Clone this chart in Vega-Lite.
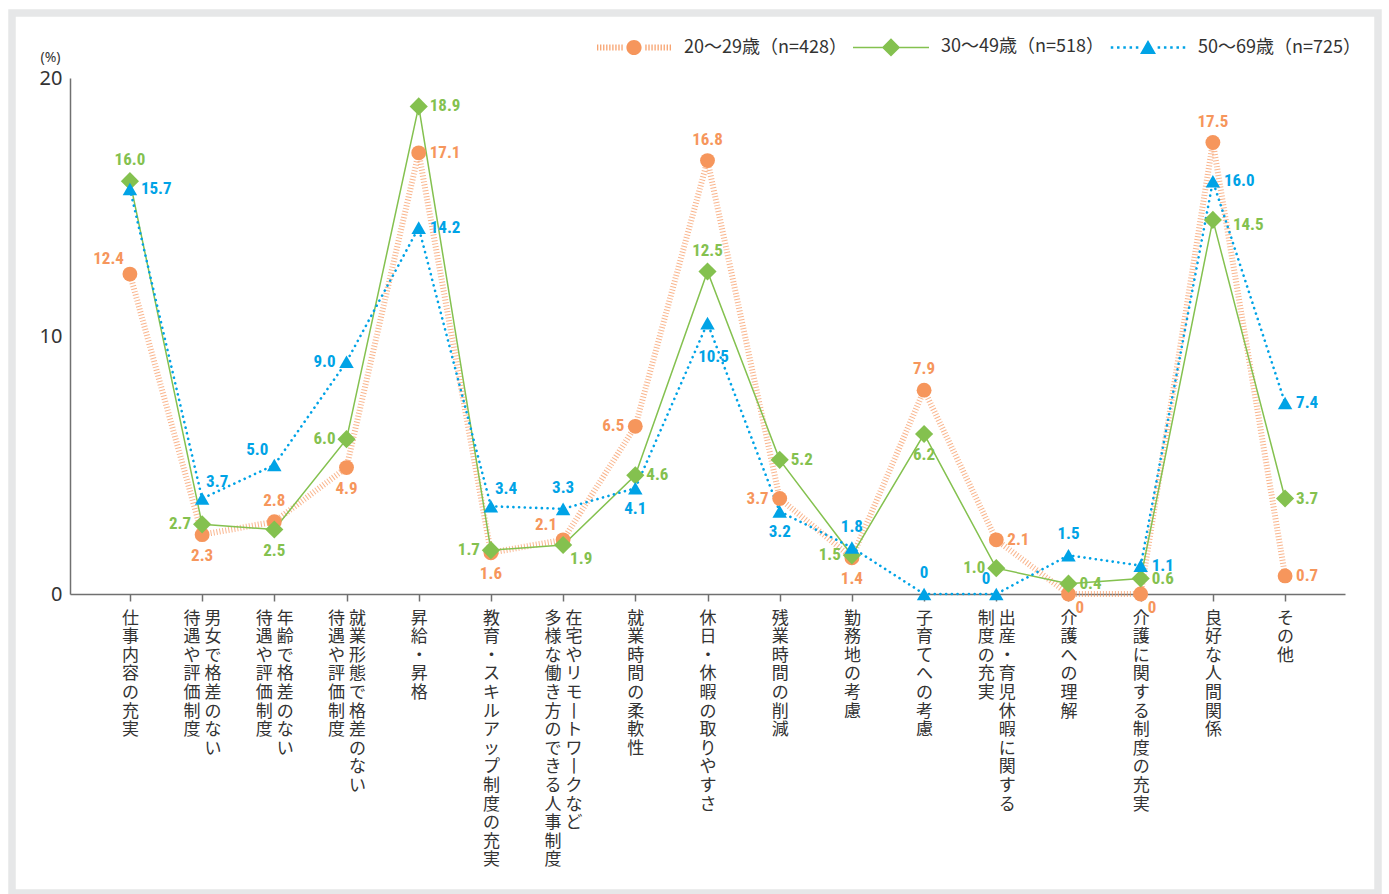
{
  "$schema": "https://vega.github.io/schema/vega-lite/v6.json",
  "width": 1366,
  "height": 880,
  "autosize": {"type": "none"},
  "padding": {"left": 12, "top": 13, "right": 11, "bottom": 1},
  "background": "white",
  "config": {
    "view": {"stroke": "#e6e7e8", "strokeWidth": 7.5},
    "axis": {"grid": false, "domainColor": "#707070", "domainWidth": 1.5, "tickColor": "#707070", "tickWidth": 1.5},
    "axisX": {
      "offset": -299, "title": null, "tickSize": 7,
      "labelAngle": 0, "labelBaseline": "top", "labelPadding": 9,
      "labelFont": "Noto Sans CJK JP", "labelFontSize": 17, "labelColor": "#333333", "labelLineHeight": 18.6,
      "labelOverlap": false, "labelLimit": 0
    },
    "text": {"font": "Roboto Condensed, Roboto, sans-serif", "fontWeight": "bold", "fontSize": 17, "baseline": "middle"}
  },
  "data": {
    "values": [
      {"no": 1, "item": "仕事内容の充実", "group": "20～29歳（n=428）", "value": 12.4},
      {"no": 1, "item": "仕事内容の充実", "group": "30～49歳（n=518）", "value": 16.0},
      {"no": 1, "item": "仕事内容の充実", "group": "50～69歳（n=725）", "value": 15.7},
      {"no": 2, "item": "男女で格差のない\n待遇や評価制度", "group": "20～29歳（n=428）", "value": 2.3},
      {"no": 2, "item": "男女で格差のない\n待遇や評価制度", "group": "30～49歳（n=518）", "value": 2.7},
      {"no": 2, "item": "男女で格差のない\n待遇や評価制度", "group": "50～69歳（n=725）", "value": 3.7},
      {"no": 3, "item": "年齢で格差のない\n待遇や評価制度", "group": "20～29歳（n=428）", "value": 2.8},
      {"no": 3, "item": "年齢で格差のない\n待遇や評価制度", "group": "30～49歳（n=518）", "value": 2.5},
      {"no": 3, "item": "年齢で格差のない\n待遇や評価制度", "group": "50～69歳（n=725）", "value": 5.0},
      {"no": 4, "item": "就業形態で格差のない\n待遇や評価制度", "group": "20～29歳（n=428）", "value": 4.9},
      {"no": 4, "item": "就業形態で格差のない\n待遇や評価制度", "group": "30～49歳（n=518）", "value": 6.0},
      {"no": 4, "item": "就業形態で格差のない\n待遇や評価制度", "group": "50～69歳（n=725）", "value": 9.0},
      {"no": 5, "item": "昇給・昇格", "group": "20～29歳（n=428）", "value": 17.1},
      {"no": 5, "item": "昇給・昇格", "group": "30～49歳（n=518）", "value": 18.9},
      {"no": 5, "item": "昇給・昇格", "group": "50～69歳（n=725）", "value": 14.2},
      {"no": 6, "item": "教育・スキルアップ制度の充実", "group": "20～29歳（n=428）", "value": 1.6},
      {"no": 6, "item": "教育・スキルアップ制度の充実", "group": "30～49歳（n=518）", "value": 1.7},
      {"no": 6, "item": "教育・スキルアップ制度の充実", "group": "50～69歳（n=725）", "value": 3.4},
      {"no": 7, "item": "在宅やリモートワークなど\n多様な働き方のできる人事制度", "group": "20～29歳（n=428）", "value": 2.1},
      {"no": 7, "item": "在宅やリモートワークなど\n多様な働き方のできる人事制度", "group": "30～49歳（n=518）", "value": 1.9},
      {"no": 7, "item": "在宅やリモートワークなど\n多様な働き方のできる人事制度", "group": "50～69歳（n=725）", "value": 3.3},
      {"no": 8, "item": "就業時間の柔軟性", "group": "20～29歳（n=428）", "value": 6.5},
      {"no": 8, "item": "就業時間の柔軟性", "group": "30～49歳（n=518）", "value": 4.6},
      {"no": 8, "item": "就業時間の柔軟性", "group": "50～69歳（n=725）", "value": 4.1},
      {"no": 9, "item": "休日・休暇の取りやすさ", "group": "20～29歳（n=428）", "value": 16.8},
      {"no": 9, "item": "休日・休暇の取りやすさ", "group": "30～49歳（n=518）", "value": 12.5},
      {"no": 9, "item": "休日・休暇の取りやすさ", "group": "50～69歳（n=725）", "value": 10.5},
      {"no": 10, "item": "残業時間の削減", "group": "20～29歳（n=428）", "value": 3.7},
      {"no": 10, "item": "残業時間の削減", "group": "30～49歳（n=518）", "value": 5.2},
      {"no": 10, "item": "残業時間の削減", "group": "50～69歳（n=725）", "value": 3.2},
      {"no": 11, "item": "勤務地の考慮", "group": "20～29歳（n=428）", "value": 1.4},
      {"no": 11, "item": "勤務地の考慮", "group": "30～49歳（n=518）", "value": 1.5},
      {"no": 11, "item": "勤務地の考慮", "group": "50～69歳（n=725）", "value": 1.8},
      {"no": 12, "item": "子育てへの考慮", "group": "20～29歳（n=428）", "value": 7.9},
      {"no": 12, "item": "子育てへの考慮", "group": "30～49歳（n=518）", "value": 6.2},
      {"no": 12, "item": "子育てへの考慮", "group": "50～69歳（n=725）", "value": 0},
      {"no": 13, "item": "出産・育児休暇に関する\n制度の充実", "group": "20～29歳（n=428）", "value": 2.1},
      {"no": 13, "item": "出産・育児休暇に関する\n制度の充実", "group": "30～49歳（n=518）", "value": 1.0},
      {"no": 13, "item": "出産・育児休暇に関する\n制度の充実", "group": "50～69歳（n=725）", "value": 0},
      {"no": 14, "item": "介護への理解", "group": "20～29歳（n=428）", "value": 0},
      {"no": 14, "item": "介護への理解", "group": "30～49歳（n=518）", "value": 0.4},
      {"no": 14, "item": "介護への理解", "group": "50～69歳（n=725）", "value": 1.5},
      {"no": 15, "item": "介護に関する制度の充実", "group": "20～29歳（n=428）", "value": 0},
      {"no": 15, "item": "介護に関する制度の充実", "group": "30～49歳（n=518）", "value": 0.6},
      {"no": 15, "item": "介護に関する制度の充実", "group": "50～69歳（n=725）", "value": 1.1},
      {"no": 16, "item": "良好な人間関係", "group": "20～29歳（n=428）", "value": 17.5},
      {"no": 16, "item": "良好な人間関係", "group": "30～49歳（n=518）", "value": 14.5},
      {"no": 16, "item": "良好な人間関係", "group": "50～69歳（n=725）", "value": 16.0},
      {"no": 17, "item": "その他", "group": "20～29歳（n=428）", "value": 0.7},
      {"no": 17, "item": "その他", "group": "30～49歳（n=518）", "value": 3.7},
      {"no": 17, "item": "その他", "group": "50～69歳（n=725）", "value": 7.4}
    ]
  },
  "resolve": {"axis": {"x": "independent"}},
  "layer": [
    {
      "description": "Legend key: no rows pass the filter; it only carries the colour and the line-plus-marker key shapes.",
      "transform": [{"filter": "false"}],
      "mark": {"type": "point", "filled": true, "opacity": 1, "strokeWidth": 0},
      "encoding": {
        "color": {
          "field": "group", "type": "nominal",
          "scale": {"domain": ["20～29歳（n=428）", "30～49歳（n=518）", "50～69歳（n=725）"], "range": ["#f6965c", "#84c14f", "#00a3e6"]},
          "legend": {
            "orient": "none", "legendX": 584, "legendY": -4, "direction": "horizontal", "title": null, "padding": 0,
            "symbolSize": 5776, "symbolStrokeWidth": 0, "symbolOpacity": 1,
            "labelFont": "Noto Sans CJK JP", "labelFontSize": 18, "labelColor": "#333333", "labelOffset": 12, "labelLimit": 300,
            "columnPadding": 6
          }
        },
        "shape": {
          "field": "group", "type": "nominal",
          "scale": {
            "domain": ["20～29歳（n=428）", "30～49歳（n=518）", "50～69歳（n=725）"],
            "range": [
              "M-0.97,-0.08h0.03v0.16h-0.03ZM-0.89,-0.08h0.03v0.16h-0.03ZM-0.81,-0.08h0.03v0.16h-0.03ZM-0.73,-0.08h0.03v0.16h-0.03ZM-0.65,-0.08h0.03v0.16h-0.03ZM-0.57,-0.08h0.03v0.16h-0.03ZM-0.49,-0.08h0.03v0.16h-0.03ZM-0.41,-0.08h0.03v0.16h-0.03ZM-0.33,-0.08h0.03v0.16h-0.03ZM0.3,-0.08h0.03v0.16h-0.03ZM0.38,-0.08h0.03v0.16h-0.03ZM0.46,-0.08h0.03v0.16h-0.03ZM0.54,-0.08h0.03v0.16h-0.03ZM0.62,-0.08h0.03v0.16h-0.03ZM0.7,-0.08h0.03v0.16h-0.03ZM0.78,-0.08h0.03v0.16h-0.03ZM0.86,-0.08h0.03v0.16h-0.03ZM0.94,-0.08h0.03v0.16h-0.03ZM-0.2,0A0.2,0.2,0,1,0,0.2,0A0.2,0.2,0,1,0,-0.2,0Z",
              "M-1,-0.02H1V0.02H-1ZM0,-0.24L0.24,0L0,0.24L-0.24,0Z",
              "M-0.98,-0.033h0.066v0.066h-0.066ZM-0.815,-0.033h0.066v0.066h-0.066ZM-0.65,-0.033h0.066v0.066h-0.066ZM-0.485,-0.033h0.066v0.066h-0.066ZM-0.32,-0.033h0.066v0.066h-0.066ZM0.254,-0.033h0.066v0.066h-0.066ZM0.419,-0.033h0.066v0.066h-0.066ZM0.584,-0.033h0.066v0.066h-0.066ZM0.749,-0.033h0.066v0.066h-0.066ZM0.914,-0.033h0.066v0.066h-0.066ZM0,-0.2L0.21,0.17L-0.21,0.17Z"
            ]
          }
        }
      }
    },
    {
      "transform": [{"filter": "datum.group === '20～29歳（n=428）'"}],
      "mark": {"type": "line", "color": "#f6965c", "strokeWidth": 6, "strokeDash": [1, 2], "strokeCap": "butt", "opacity": 0.7},
      "encoding": {
        "x": {
          "field": "item", "type": "nominal",
          "scale": {
            "domain": ["仕事内容の充実", "男女で格差のない\n待遇や評価制度", "年齢で格差のない\n待遇や評価制度", "就業形態で格差のない\n待遇や評価制度", "昇給・昇格", "教育・スキルアップ制度の充実", "在宅やリモートワークなど\n多様な働き方のできる人事制度", "就業時間の柔軟性", "休日・休暇の取りやすさ", "残業時間の削減", "勤務地の考慮", "子育てへの考慮", "出産・育児休暇に関する\n制度の充実", "介護への理解", "介護に関する制度の充実", "良好な人間関係", "その他"],
            "range": [58, 1333], "padding": 0.83
          },
          "axis": {
            "orient": "bottom", "labelAlign": "center",
            "labelExpr": "indexof(datum.label, '\\n') >= 0 ? '' : split(replace(datum.label, regexp('ー', 'g'), '丨'), '')"
          }
        },
        "y": {
          "field": "value", "type": "quantitative",
          "scale": {"domain": [0, 20], "range": [581, 65], "nice": false, "zero": true},
          "axis": {
            "orient": "left", "offset": -58, "values": [0, 10, 20], "ticks": false,
            "labelFont": "Noto Sans", "labelFontSize": 20, "labelColor": "#333333", "labelPadding": 8,
            "title": "(%)", "titleAngle": 0, "titleX": -20, "titleY": 44, "titleAlign": "center", "titleBaseline": "middle",
            "titleFont": "Noto Sans", "titleFontSize": 14, "titleFontWeight": "normal", "titleColor": "#333333"
          }
        }
      }
    },
    {
      "transform": [{"filter": "datum.group === '30～49歳（n=518）'"}],
      "mark": {"type": "line", "color": "#84c14f", "strokeWidth": 1.5},
      "encoding": {
        "x": {
          "field": "item", "type": "nominal",
          "axis": {
            "orient": "bottom", "domain": false, "tickOpacity": 0, "labelAlign": "left", "labelOffset": 2,
            "labelExpr": "indexof(datum.label, '\\n') >= 0 ? split(replace(split(datum.label, '\\n')[0], regexp('ー', 'g'), '丨'), '') : ''"
          }
        },
        "y": {"field": "value", "type": "quantitative"}
      }
    },
    {
      "transform": [{"filter": "datum.group === '50～69歳（n=725）'"}],
      "mark": {"type": "line", "color": "#00a3e6", "strokeWidth": 2.6, "strokeDash": [0.1, 5.6], "strokeCap": "round"},
      "encoding": {
        "x": {
          "field": "item", "type": "nominal",
          "axis": {
            "orient": "bottom", "domain": false, "tickOpacity": 0, "labelAlign": "right", "labelOffset": -2,
            "labelExpr": "indexof(datum.label, '\\n') >= 0 ? split(replace(split(datum.label, '\\n')[1], regexp('ー', 'g'), '丨'), '') : ''"
          }
        },
        "y": {"field": "value", "type": "quantitative"}
      }
    },
    {
      "transform": [{"filter": "datum.group === '20～29歳（n=428）'"}],
      "mark": {"type": "point", "shape": "circle", "size": 220, "filled": true, "opacity": 1, "strokeWidth": 0},
      "encoding": {
        "x": {"field": "item", "type": "nominal", "axis": null},
        "y": {"field": "value", "type": "quantitative"},
        "color": {"field": "group", "type": "nominal"}
      }
    },
    {
      "transform": [{"filter": "datum.group === '30～49歳（n=518）'"}],
      "mark": {"type": "point", "shape": "diamond", "size": 330, "filled": true, "opacity": 1, "strokeWidth": 0},
      "encoding": {
        "x": {"field": "item", "type": "nominal", "axis": null},
        "y": {"field": "value", "type": "quantitative"},
        "color": {"field": "group", "type": "nominal"}
      }
    },
    {
      "transform": [{"filter": "datum.group === '50～69歳（n=725）'"}],
      "mark": {"type": "point", "shape": "triangle-up", "size": 210, "filled": true, "opacity": 1, "strokeWidth": 0},
      "encoding": {
        "x": {"field": "item", "type": "nominal", "axis": null},
        "y": {"field": "value", "type": "quantitative"},
        "color": {"field": "group", "type": "nominal"}
      }
    },
    {
      "transform": [{"filter": "(datum.group === '20～29歳（n=428）' && indexof([3, 9, 12, 16], datum.no) >= 0) || (datum.group === '30～49歳（n=518）' && indexof([1, 9], datum.no) >= 0) || (datum.group === '50～69歳（n=725）' && indexof([7, 11, 12, 14], datum.no) >= 0)"}],
      "mark": {"type": "text", "align": "center", "dy": -21},
      "encoding": {
        "x": {"field": "item", "type": "nominal", "axis": null},
        "y": {"field": "value", "type": "quantitative"},
        "color": {"field": "group", "type": "nominal"},
        "text": {"condition": {"test": "datum.value === 0", "value": "0"}, "field": "value", "type": "quantitative", "format": ".1f"}
      }
    },
    {
      "transform": [{"filter": "(datum.group === '20～29歳（n=428）' && indexof([2, 4, 6, 11], datum.no) >= 0) || (datum.group === '30～49歳（n=518）' && indexof([3, 12], datum.no) >= 0) || (datum.group === '50～69歳（n=725）' && indexof([8, 10], datum.no) >= 0)"}],
      "mark": {"type": "text", "align": "center", "dy": 21},
      "encoding": {
        "x": {"field": "item", "type": "nominal", "axis": null},
        "y": {"field": "value", "type": "quantitative"},
        "color": {"field": "group", "type": "nominal"},
        "text": {"condition": {"test": "datum.value === 0", "value": "0"}, "field": "value", "type": "quantitative", "format": ".1f"}
      }
    },
    {
      "transform": [{"filter": "datum.group === '50～69歳（n=725）' && datum.no === 9"}],
      "mark": {"type": "text", "align": "center", "dx": 6, "dy": 34},
      "encoding": {
        "x": {"field": "item", "type": "nominal", "axis": null},
        "y": {"field": "value", "type": "quantitative"},
        "color": {"field": "group", "type": "nominal"},
        "text": {"condition": {"test": "datum.value === 0", "value": "0"}, "field": "value", "type": "quantitative", "format": ".1f"}
      }
    },
    {
      "transform": [{"filter": "(datum.group === '20～29歳（n=428）' && indexof([5, 13, 17], datum.no) >= 0) || (datum.group === '30～49歳（n=518）' && indexof([5, 8, 10, 14, 15, 17], datum.no) >= 0) || (datum.group === '50～69歳（n=725）' && indexof([1, 5, 15, 16, 17], datum.no) >= 0)"}],
      "mark": {"type": "text", "align": "left", "dx": 11},
      "encoding": {
        "x": {"field": "item", "type": "nominal", "axis": null},
        "y": {"field": "value", "type": "quantitative"},
        "color": {"field": "group", "type": "nominal"},
        "text": {"condition": {"test": "datum.value === 0", "value": "0"}, "field": "value", "type": "quantitative", "format": ".1f"}
      }
    },
    {
      "transform": [{"filter": "datum.group === '30～49歳（n=518）' && datum.no === 16"}],
      "mark": {"type": "text", "align": "left", "dx": 20, "dy": 5},
      "encoding": {
        "x": {"field": "item", "type": "nominal", "axis": null},
        "y": {"field": "value", "type": "quantitative"},
        "color": {"field": "group", "type": "nominal"},
        "text": {"condition": {"test": "datum.value === 0", "value": "0"}, "field": "value", "type": "quantitative", "format": ".1f"}
      }
    },
    {
      "transform": [{"filter": "(datum.group === '20～29歳（n=428）' && indexof([8, 10], datum.no) >= 0) || (datum.group === '30～49歳（n=518）' && indexof([2, 4, 6, 11, 13], datum.no) >= 0) || (datum.group === '50～69歳（n=725）' && indexof([4], datum.no) >= 0)"}],
      "mark": {"type": "text", "align": "right", "dx": -11},
      "encoding": {
        "x": {"field": "item", "type": "nominal", "axis": null},
        "y": {"field": "value", "type": "quantitative"},
        "color": {"field": "group", "type": "nominal"},
        "text": {"condition": {"test": "datum.value === 0", "value": "0"}, "field": "value", "type": "quantitative", "format": ".1f"}
      }
    },
    {
      "transform": [{"filter": "(datum.group === '20～29歳（n=428）' && indexof([1, 7], datum.no) >= 0) || (datum.group === '50～69歳（n=725）' && indexof([3, 13], datum.no) >= 0)"}],
      "mark": {"type": "text", "align": "right", "dx": -6, "dy": -15},
      "encoding": {
        "x": {"field": "item", "type": "nominal", "axis": null},
        "y": {"field": "value", "type": "quantitative"},
        "color": {"field": "group", "type": "nominal"},
        "text": {"condition": {"test": "datum.value === 0", "value": "0"}, "field": "value", "type": "quantitative", "format": ".1f"}
      }
    },
    {
      "transform": [{"filter": "datum.group === '50～69歳（n=725）' && indexof([2, 6], datum.no) >= 0"}],
      "mark": {"type": "text", "align": "left", "dx": 4, "dy": -17},
      "encoding": {
        "x": {"field": "item", "type": "nominal", "axis": null},
        "y": {"field": "value", "type": "quantitative"},
        "color": {"field": "group", "type": "nominal"},
        "text": {"condition": {"test": "datum.value === 0", "value": "0"}, "field": "value", "type": "quantitative", "format": ".1f"}
      }
    },
    {
      "transform": [{"filter": "(datum.group === '20～29歳（n=428）' && indexof([14, 15], datum.no) >= 0) || (datum.group === '30～49歳（n=518）' && indexof([7], datum.no) >= 0)"}],
      "mark": {"type": "text", "align": "left", "dx": 7, "dy": 14},
      "encoding": {
        "x": {"field": "item", "type": "nominal", "axis": null},
        "y": {"field": "value", "type": "quantitative"},
        "color": {"field": "group", "type": "nominal"},
        "text": {"condition": {"test": "datum.value === 0", "value": "0"}, "field": "value", "type": "quantitative", "format": ".1f"}
      }
    }
  ]
}
